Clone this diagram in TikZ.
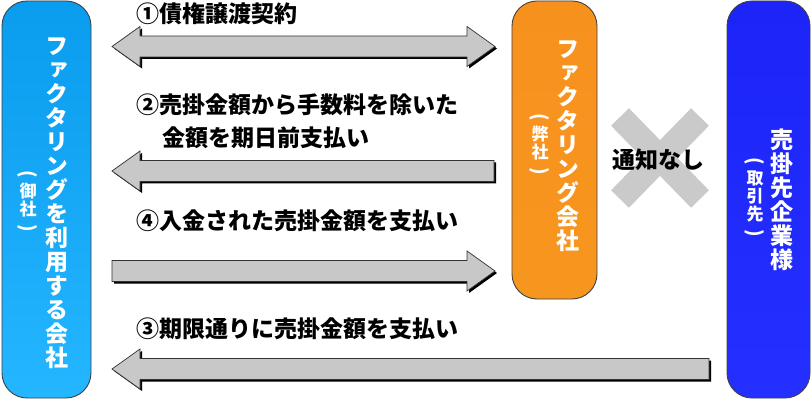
\documentclass[tikz,border=0pt]{standalone}
\usepackage{graphicx}
\usepackage{fontspec}
\newfontfamily\jp{Noto Sans CJK JP}
\newfontfamily\jpv{Noto Sans CJK JP}[RawFeature=+vert]
\definecolor{lbTop}{RGB}{10,156,238}
\definecolor{lbBot}{RGB}{36,182,255}
\definecolor{orTop}{RGB}{247,145,30}
\definecolor{orMid}{RGB}{252,188,22}
\definecolor{orBot}{RGB}{247,150,30}
\definecolor{dbTop}{RGB}{28,36,248}
\definecolor{dbBot}{RGB}{36,48,255}
\definecolor{arrGray}{RGB}{200,200,200}
\definecolor{xGray}{RGB}{202,202,202}
\tikzset{
  boxst/.style={draw=black!75, line width=0.9pt, rounded corners=25pt},
  arrowst/.style={fill=arrGray, draw=black!80, line width=0.7pt},
  shadowst/.style={fill=black},
  lbl/.style={font=\jp\bfseries\fontsize{23}{27}\selectfont, text=black, inner sep=0pt, anchor=west},
  vtxt/.style={font=\jpv\bfseries\fontsize{23}{24}\selectfont, text=white, align=center, inner sep=0pt},
  vsmall/.style={font=\jp\bfseries\fontsize{17}{18}\selectfont, text=white, align=center, inner sep=0pt},
}
\newcommand\VOpen{\rotatebox[origin=c]{-90}{\fontsize{19}{19}\selectfont(}}
\newcommand\VClose{\rotatebox[origin=c]{-90}{\fontsize{19}{19}\selectfont)}}
\newcommand\ArrPath[4]{(#1,#3) -- (#1+#4,#3-20) -- (#1+#4,#3-10.5) -- (#2,#3-10.5) -- (#2,#3+10.5) -- (#1+#4,#3+10.5) -- (#1+#4,#3+20) -- cycle}
\newcommand\DblPath[3]{(#1,#3) -- (#1+28,#3-20) -- (#1+28,#3-10.5) -- (#2-28,#3-10.5) -- (#2-28,#3-20) -- (#2,#3) -- (#2-28,#3+20) -- (#2-28,#3+10.5) -- (#1+28,#3+10.5) -- (#1+28,#3+20) -- cycle}
\begin{document}
\begin{tikzpicture}[x=1pt,y=-1pt]
\useasboundingbox (0,0) rectangle (812,401);
% boxes
\path[boxst, top color=lbTop, bottom color=lbBot] (2,1) rectangle (91,398);
\path[boxst, top color=orTop, middle color=orMid, bottom color=orBot] (512,1) rectangle (597,299);
\path[boxst, top color=dbTop, bottom color=dbBot] (727,1) rectangle (810,398);
% box texts
\node[vtxt] (client) at (57,203) {フ\\ァ\\ク\\タ\\リ\\ン\\グ\\を\\利\\用\\す\\る\\会\\社};
\node[vsmall] (clientsub) at (28,202) {\VOpen\\御\\社\\\VClose};
\node[vtxt] (factor) at (568,146) {フ\\ァ\\ク\\タ\\リ\\ン\\グ\\会\\社};
\node[vsmall] (factorsub) at (540,145) {\VOpen\\弊\\社\\\VClose};
\node[vtxt] (buyer) at (782,200) {売\\掛\\先\\企\\業\\様};
\node[vsmall] (buyersub) at (755,198) {\VOpen\\取\\引\\先\\\VClose};
% X mark
\draw[xGray, line width=25pt] (620,117) -- (700,199) (700,117) -- (620,199);
\node[lbl, anchor=center] (notice) at (658,160) {通知なし};
% arrows: shadows
\begin{scope}[shift={(2,2)}]
\path[shadowst] \DblPath{112}{495}{46.5};
\path[shadowst] \ArrPath{112}{494}{171}{28};
\path[shadowst] \ArrPath{495}{112}{271}{-28};
\path[shadowst] \ArrPath{112}{709}{369}{28};
\end{scope}
\path[arrowst] \DblPath{112}{495}{46.5};
\path[arrowst] \ArrPath{112}{494}{171}{28};
\path[arrowst] \ArrPath{495}{112}{271}{-28};
\path[arrowst] \ArrPath{112}{709}{369}{28};
% labels
\node[lbl] (l1) at (136,14) {①債権譲渡契約};
\node[lbl] (l2a) at (136,105) {②売掛金額から手数料を除いた};
\node[lbl] (l2b) at (162,138) {金額を期日前支払い};
\node[lbl] (l4) at (136,221) {④入金された売掛金額を支払い};
\node[lbl] (l3) at (136,329) {③期限通りに売掛金額を支払い};
\end{tikzpicture}
\end{document}
